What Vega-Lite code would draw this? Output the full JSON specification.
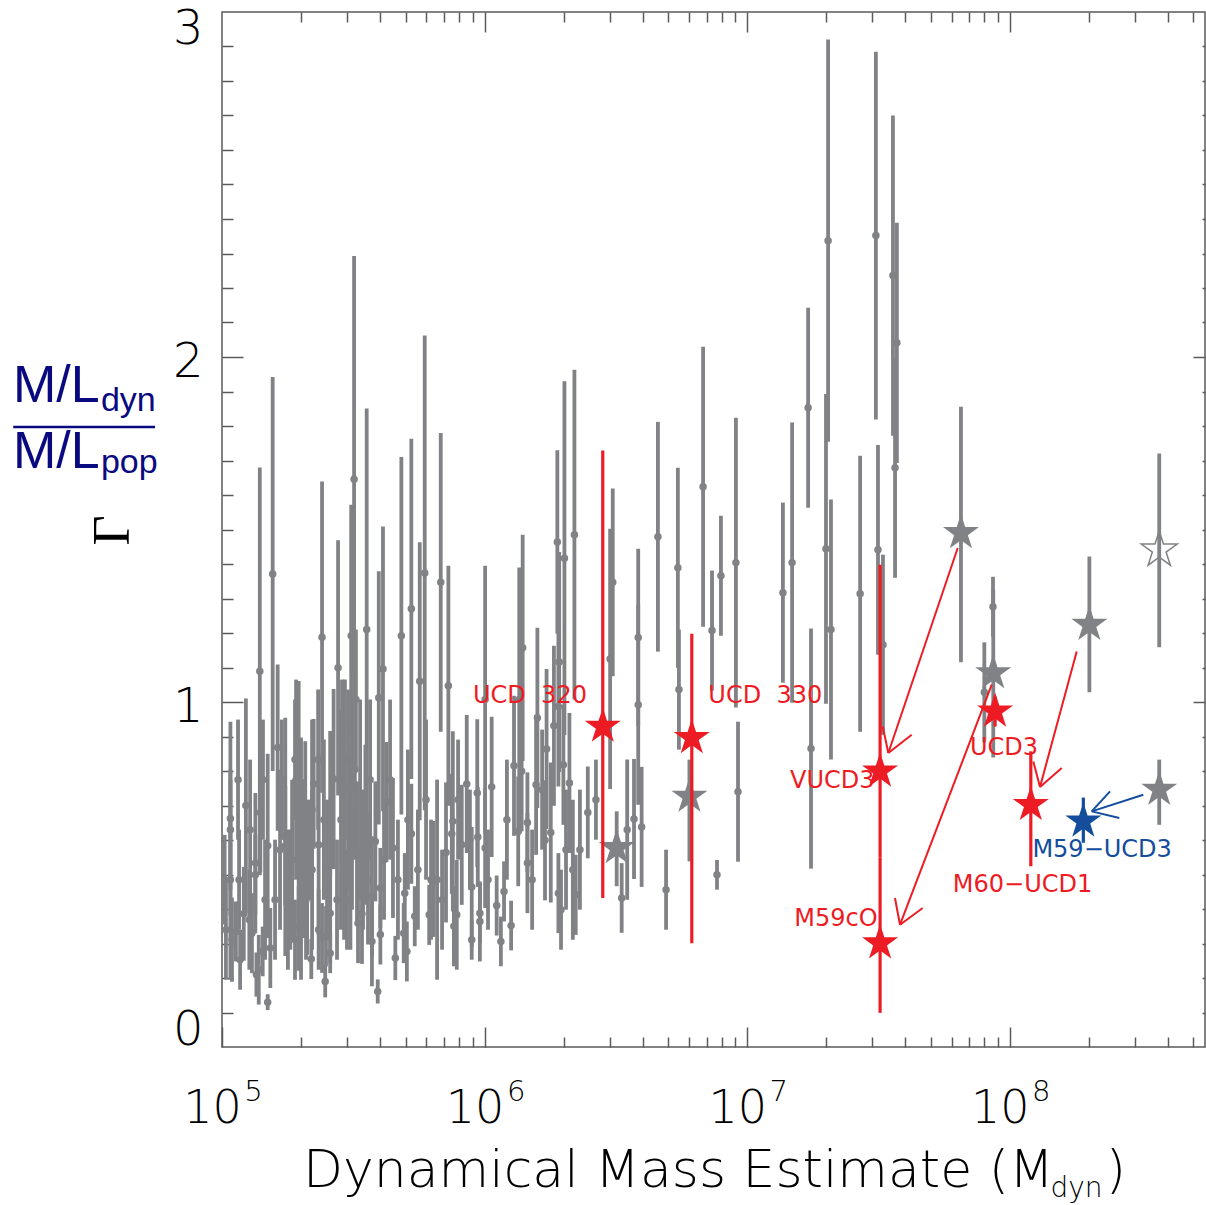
{
  "$schema": "https://vega.github.io/schema/vega-lite/v6.json",
  "width": 983,
  "height": 1035,
  "autosize": "none",
  "padding": {"left": 222, "top": 12, "right": 1, "bottom": 158},
  "background": "white",
  "config": {
    "view": {"stroke": "#5a5a5a", "strokeWidth": 1.5},
    "axis": {"grid": false, "domain": false, "tickColor": "#5a5a5a", "tickWidth": 1.5, "labelColor": "#000000", "labelOverlap": false, "labelBound": false}
  },
  "datasets": {
    "clusters": [
      {"lm":5.010,"g":0.485,"e":0.130},{"lm":5.032,"g":0.662,"e":0.281},{"lm":5.032,"g":0.630,"e":0.174},{"lm":5.038,"g":0.311,"e":0.122},
      {"lm":5.053,"g":0.335,"e":0.087},{"lm":5.091,"g":0.700,"e":0.310},{"lm":5.083,"g":0.386,"e":0.136},{"lm":5.104,"g":0.369,"e":0.145},
      {"lm":5.127,"g":0.533,"e":0.203},{"lm":5.127,"g":0.499,"e":0.116},{"lm":5.144,"g":1.089,"e":0.591},{"lm":5.146,"g":0.680,"e":0.174},
      {"lm":5.131,"g":0.210,"e":0.064},{"lm":5.140,"g":0.224,"e":0.101},{"lm":5.155,"g":0.277,"e":0.072},{"lm":5.114,"g":0.330,"e":0.116},
      {"lm":5.174,"g":0.583,"e":0.267},{"lm":5.174,"g":0.130,"e":0.023},{"lm":5.184,"g":0.287,"e":0.116},{"lm":5.193,"g":1.371,"e":0.571},
      {"lm":5.212,"g":0.868,"e":0.241},{"lm":5.241,"g":0.609,"e":0.345},{"lm":5.241,"g":0.583,"e":0.174},{"lm":5.292,"g":0.641,"e":0.420},
      {"lm":5.292,"g":0.350,"e":0.116},{"lm":5.317,"g":0.654,"e":0.232},{"lm":5.311,"g":0.603,"e":0.174},{"lm":5.311,"g":0.461,"e":0.145},
      {"lm":5.324,"g":0.441,"e":0.174},{"lm":5.349,"g":0.763,"e":0.188},{"lm":5.340,"g":0.255,"e":0.058},{"lm":5.368,"g":0.586,"e":0.261},
      {"lm":5.381,"g":1.188,"e":0.451},{"lm":5.368,"g":0.340,"e":0.116},{"lm":5.381,"g":0.316,"e":0.101},{"lm":5.396,"g":0.321,"e":0.087},
      {"lm":5.393,"g":0.190,"e":0.046},{"lm":5.412,"g":0.704,"e":0.212},{"lm":5.425,"g":0.777,"e":0.261},{"lm":5.412,"g":0.388,"e":0.145},
      {"lm":5.412,"g":0.272,"e":0.058},{"lm":5.442,"g":1.099,"e":0.370},{"lm":5.492,"g":1.192,"e":0.380},{"lm":5.503,"g":1.646,"e":0.647},
      {"lm":5.551,"g":1.210,"e":0.641},{"lm":5.514,"g":0.567,"e":0.203},{"lm":5.489,"g":0.572,"e":0.290},{"lm":5.518,"g":0.359,"e":0.116},
      {"lm":5.533,"g":0.386,"e":0.145},{"lm":5.546,"g":0.644,"e":0.232},{"lm":5.584,"g":0.596,"e":0.174},{"lm":5.571,"g":0.437,"e":0.174},
      {"lm":5.571,"g":0.306,"e":0.130},{"lm":5.593,"g":0.161,"e":0.035},{"lm":5.597,"g":1.012,"e":0.367},{"lm":5.613,"g":1.096,"e":0.413},
      {"lm":5.626,"g":0.710,"e":0.174},{"lm":5.603,"g":0.461,"e":0.116},{"lm":5.603,"g":0.326,"e":0.087},{"lm":5.651,"g":0.577,"e":0.203},
      {"lm":5.660,"g":0.258,"e":0.064},{"lm":5.683,"g":1.192,"e":0.518},{"lm":5.696,"g":0.446,"e":0.116},{"lm":5.692,"g":0.330,"e":0.087},
      {"lm":5.704,"g":0.277,"e":0.087},{"lm":5.721,"g":1.270,"e":0.493},{"lm":5.721,"g":0.618,"e":0.145},{"lm":5.734,"g":0.379,"e":0.087},
      {"lm":5.753,"g":1.060,"e":0.403},{"lm":5.772,"g":1.374,"e":0.688},{"lm":5.789,"g":0.383,"e":0.087},{"lm":5.796,"g":0.485,"e":0.174},
      {"lm":5.468,"g":0.833,"e":0.232},{"lm":5.480,"g":0.746,"e":0.290},{"lm":5.506,"g":0.804,"e":0.261},{"lm":5.453,"g":0.659,"e":0.319},
      {"lm":5.465,"g":0.514,"e":0.203},{"lm":5.526,"g":0.717,"e":0.290},{"lm":5.499,"g":0.920,"e":0.174},{"lm":5.366,"g":0.833,"e":0.203},
      {"lm":5.343,"g":0.688,"e":0.261},{"lm":5.282,"g":0.775,"e":0.290},{"lm":5.267,"g":0.543,"e":0.232},{"lm":5.301,"g":0.369,"e":0.174},
      {"lm":5.331,"g":0.572,"e":0.145},{"lm":5.065,"g":0.485,"e":0.145},{"lm":5.251,"g":0.427,"e":0.203},{"lm":5.156,"g":0.775,"e":0.174},
      {"lm":5.228,"g":0.775,"e":0.174},
      {"lm":5.032,"g":0.485,"e":0.290},{"lm":5.260,"g":0.456,"e":0.174},{"lm":5.301,"g":0.633,"e":0.264},{"lm":5.320,"g":0.427,"e":0.174},
      {"lm":5.343,"g":0.514,"e":0.232},{"lm":5.556,"g":0.485,"e":0.188},{"lm":5.015,"g":0.340,"e":0.145},{"lm":5.069,"g":0.253,"e":0.087},
      {"lm":5.107,"g":0.630,"e":0.203},{"lm":5.164,"g":0.427,"e":0.174},{"lm":5.202,"g":0.427,"e":0.174},{"lm":5.221,"g":0.572,"e":0.232},
      {"lm":5.278,"g":0.311,"e":0.116},{"lm":5.400,"g":0.514,"e":0.203},{"lm":5.438,"g":0.427,"e":0.174},{"lm":5.457,"g":0.891,"e":0.174},
      {"lm":5.476,"g":0.427,"e":0.145},{"lm":5.495,"g":0.659,"e":0.261},{"lm":5.510,"g":1.007,"e":0.203},{"lm":5.537,"g":0.543,"e":0.203},
      {"lm":5.564,"g":0.775,"e":0.232},{"lm":5.617,"g":0.543,"e":0.174},{"lm":5.640,"g":0.775,"e":0.232},{"lm":5.670,"g":0.485,"e":0.174},
      {"lm":5.708,"g":0.659,"e":0.203},{"lm":5.746,"g":0.514,"e":0.174},{"lm":5.777,"g":0.717,"e":0.232},{"lm":5.838,"g":0.427,"e":0.145},
      {"lm":5.899,"g":0.717,"e":0.174},{"lm":5.944,"g":0.601,"e":0.145},{"lm":6.013,"g":0.485,"e":0.145},{"lm":6.085,"g":0.659,"e":0.174},
      {"lm":6.181,"g":0.485,"e":0.145},{"lm":6.219,"g":0.746,"e":0.174},{"lm":6.310,"g":0.572,"e":0.174},{"lm":6.363,"g":0.572,"e":0.174},
      {"lm":6.424,"g":0.717,"e":0.116},{"lm":5.388,"g":0.659,"e":0.232},{"lm":5.278,"g":0.833,"e":0.174},{"lm":5.061,"g":0.775,"e":0.174},
      {"lm":5.805,"g":0.487,"e":0.168},{"lm":5.819,"g":0.485,"e":0.290},{"lm":5.833,"g":1.347,"e":0.433},{"lm":5.862,"g":1.047,"e":0.348},
      {"lm":5.853,"g":0.564,"e":0.203},{"lm":5.879,"g":0.654,"e":0.261},{"lm":5.875,"g":0.618,"e":0.174},{"lm":5.883,"g":0.350,"e":0.116},
      {"lm":5.894,"g":0.383,"e":0.159},{"lm":5.913,"g":0.586,"e":0.174},{"lm":5.932,"g":0.762,"e":0.200},{"lm":5.951,"g":0.464,"e":0.174},
      {"lm":5.951,"g":0.311,"e":0.058},{"lm":5.972,"g":0.736,"e":0.214},{"lm":5.974,"g":0.609,"e":0.145},{"lm":5.982,"g":0.388,"e":0.087},
      {"lm":5.982,"g":0.364,"e":0.116},{"lm":6.002,"g":1.007,"e":0.388},{"lm":6.002,"g":0.577,"e":0.174},{"lm":6.027,"g":0.754,"e":0.203},
      {"lm":6.046,"g":0.410,"e":0.087},{"lm":6.062,"g":0.306,"e":0.072},{"lm":6.074,"g":0.451,"e":0.087},{"lm":6.101,"g":0.352,"e":0.072},
      {"lm":6.112,"g":0.815,"e":0.203},{"lm":6.128,"g":0.625,"e":0.159},{"lm":6.145,"g":1.157,"e":0.328},{"lm":6.132,"g":1.007,"e":0.383},
      {"lm":6.141,"g":0.799,"e":0.174},{"lm":6.163,"g":0.651,"e":0.145},{"lm":6.163,"g":0.533,"e":0.145},{"lm":6.201,"g":0.954,"e":0.261},
      {"lm":6.196,"g":0.760,"e":0.203},{"lm":6.236,"g":0.864,"e":0.232},{"lm":6.230,"g":0.599,"e":0.174},{"lm":6.252,"g":0.622,"e":0.203},
      {"lm":6.264,"g":0.931,"e":0.232},{"lm":6.277,"g":1.464,"e":0.266},{"lm":6.304,"g":1.417,"e":0.513},{"lm":6.342,"g":1.485,"e":0.478},
      {"lm":6.284,"g":1.116,"e":0.319},{"lm":6.281,"g":0.987,"e":0.232},{"lm":6.300,"g":0.818,"e":0.174},{"lm":6.323,"g":0.765,"e":0.203},
      {"lm":6.281,"g":0.446,"e":0.116},{"lm":6.291,"g":0.398,"e":0.116},{"lm":6.336,"g":0.514,"e":0.203},{"lm":6.347,"g":0.441,"e":0.116},
      {"lm":6.393,"g":0.680,"e":0.133},{"lm":6.488,"g":1.347,"e":0.272},{"lm":6.478,"g":1.125,"e":0.377},{"lm":6.585,"g":1.187,"e":0.257},
      {"lm":6.585,"g":0.992,"e":0.290},{"lm":6.522,"g":0.432,"e":0.101},{"lm":6.543,"g":0.630,"e":0.203},{"lm":6.569,"g":0.661,"e":0.174},
      {"lm":6.598,"g":0.638,"e":0.174},
      {"lm":6.660,"g":1.479,"e":0.333},{"lm":6.691,"g":0.456,"e":0.116},{"lm":6.736,"g":1.389,"e":0.290},{"lm":6.740,"g":1.036,"e":0.174},
      {"lm":6.832,"g":1.624,"e":0.406},{"lm":6.866,"g":1.207,"e":0.174},{"lm":6.885,"g":0.499,"e":0.043},{"lm":6.900,"g":1.366,"e":0.174},
      {"lm":6.957,"g":1.404,"e":0.420},{"lm":6.965,"g":0.740,"e":0.203},{"lm":7.136,"g":1.317,"e":0.261},{"lm":7.171,"g":1.404,"e":0.406},
      {"lm":7.232,"g":1.853,"e":0.290},{"lm":7.243,"g":0.865,"e":0.348},{"lm":7.300,"g":1.444,"e":0.449},{"lm":7.308,"g":2.337,"e":0.583},
      {"lm":7.319,"g":1.210,"e":0.377},{"lm":7.430,"g":1.314,"e":0.400},{"lm":7.490,"g":2.352,"e":0.533},{"lm":7.498,"g":1.441,"e":0.304},
      {"lm":7.517,"g":1.166,"e":0.261},{"lm":7.555,"g":2.236,"e":0.464},{"lm":7.563,"g":1.679,"e":0.319},{"lm":7.570,"g":2.041,"e":0.348},
      {"lm":7.936,"g":1.276,"e":0.087},{"lm":7.903,"g":1.028,"e":0.145}
    ],
    "ucds": [
      {"name":"","set":"previous","lm":6.503,"g":0.577,"lo":0.466,"hi":0.683},
      {"name":"","set":"previous","lm":6.780,"g":0.726,"lo":0.538,"hi":0.833},
      {"name":"","set":"previous","lm":7.814,"g":1.490,"lo":1.115,"hi":1.856},
      {"name":"","set":"previous","lm":7.937,"g":1.084,"lo":0.839,"hi":1.326},
      {"name":"","set":"previous","lm":8.303,"g":1.224,"lo":1.028,"hi":1.422},
      {"name":"","set":"previous","lm":8.569,"g":0.746,"lo":0.644,"hi":0.833},
      {"name":"","set":"previous_open","lm":8.569,"g":1.441,"lo":1.159,"hi":1.720},
      {"name":"UCD 320","set":"new","lm":6.450,"g":0.929,"lo":0.432,"hi":1.729},
      {"name":"UCD 330","set":"new","lm":6.789,"g":0.896,"lo":0.301,"hi":1.198},
      {"name":"VUCD3","set":"new","lm":7.506,"g":0.799,"lo":0.550,"hi":1.398},
      {"name":"M59cO","set":"new","lm":7.506,"g":0.301,"lo":0.099,"hi":0.550},
      {"name":"UCD3","set":"new","lm":7.944,"g":0.973,"lo":0.929,"hi":1.016},
      {"name":"M60-UCD1","set":"new","lm":8.080,"g":0.702,"lo":0.524,"hi":0.857},
      {"name":"M59-UCD3","set":"new_m59","lm":8.280,"g":0.654,"lo":0.592,"hi":0.723}
    ],
    "arrows": [
      {"set":"new","lm":7.8016,"g":1.4464,"lm2":7.5374,"g2":0.8522},
      {"set":"new","lm":7.5160,"g":0.9293,"lm2":7.5374,"g2":0.8522},
      {"set":"new","lm":7.6264,"g":0.9052,"lm2":7.5374,"g2":0.8522},
      {"set":"new","lm":7.9311,"g":1.0501,"lm2":7.5819,"g2":0.3545},
      {"set":"new","lm":7.5628,"g":0.4319,"lm2":7.5819,"g2":0.3545},
      {"set":"new","lm":7.6683,"g":0.4029,"lm2":7.5819,"g2":0.3545},
      {"set":"new","lm":8.2548,"g":1.1467,"lm2":8.1150,"g2":0.7536},
      {"set":"new","lm":8.0895,"g":0.8278,"lm2":8.1150,"g2":0.7536},
      {"set":"new","lm":8.1977,"g":0.8087,"lm2":8.1150,"g2":0.7536},
      {"set":"new_m59","lm":8.5084,"g":0.7313,"lm2":8.3119,"g2":0.6829},
      {"set":"new_m59","lm":8.3816,"g":0.7409,"lm2":8.3119,"g2":0.6829},
      {"set":"new_m59","lm":8.4170,"g":0.6638,"lm2":8.3119,"g2":0.6829}
    ],
    "names": [
      {"set":"new","lm":5.956,"g":0.997,"label":"UCD\u00a0\u00a0320"},
      {"set":"new","lm":6.852,"g":0.997,"label":"UCD\u00a0\u00a0330"},
      {"set":"new","lm":7.163,"g":0.751,"label":"VUCD3"},
      {"set":"new","lm":7.179,"g":0.350,"label":"M59cO"},
      {"set":"new","lm":7.848,"g":0.847,"label":"UCD3"},
      {"set":"new","lm":7.783,"g":0.448,"label":"M60−UCD1"},
      {"set":"new_m59","lm":8.086,"g":0.551,"label":"M59−UCD3"}
    ]
  },
  "resolve": {"axis": {"x": "independent", "y": "independent"}},
  "layer": [
    {
      "data": {"name": "clusters"},
      "mark": {"type": "errorbar", "ticks": false, "color": "#808285", "thickness": 3.8, "rule": {"strokeWidth": 3.8, "stroke": "#808285"}},
      "encoding": {
        "x": {"field": "lm", "type": "quantitative", "scale": {"domain": [5, 8.7433], "nice": false, "zero": false}, "axis": null},
        "y": {"field": "g", "type": "quantitative", "scale": {"domain": [0, 3], "nice": false, "zero": false}, "axis": null},
        "yError": {"field": "e"}
      }
    },
    {
      "data": {"name": "clusters"},
      "mark": {"type": "point", "shape": "circle", "filled": true, "size": 56, "color": "#808285", "opacity": 1},
      "encoding": {
        "x": {"field": "lm", "type": "quantitative", "scale": {"domain": [5, 8.7433], "nice": false, "zero": false},
          "axis": {"orient": "bottom", "values": [5, 6, 7, 8], "ticks": false, "labelExpr": "'10'", "labelOffset": -10,
            "labelFont": "DejaVu Sans", "labelFontWeight": 200, "labelFontSize": 46, "labelPadding": 39, "labelFlush": false, "title": null}},
        "y": {"field": "g", "type": "quantitative", "scale": {"domain": [0, 3], "nice": false, "zero": false},
          "axis": {"orient": "left", "values": [0, 3], "ticks": false, "labelFont": "DejaVu Sans", "labelFontWeight": 200, "labelFontSize": 48,
            "labelPadding": 19, "labelFlush": true, "labelFlushOffset": 7,
            "title": "Γ", "titleFont": "Liberation Serif", "titleFontSize": 52, "titleFontWeight": "normal", "titleColor": "#000000",
            "titleAngle": 270, "titleX": -94, "titleY": 518, "titleBaseline": "alphabetic", "titleAlign": "center"}}
      }
    },
    {
      "data": {"name": "ucds"},
      "transform": [{"filter": "datum.set == 'previous' || datum.set == 'previous_open'"}],
      "mark": {"type": "rule", "color": "#808285", "strokeWidth": 3.8},
      "encoding": {
        "x": {"field": "lm", "type": "quantitative", "scale": {"domain": [5, 8.7433], "nice": false, "zero": false},
          "axis": {"orient": "bottom", "values": [5, 6, 7, 8], "labels": false, "tickSize": -20, "title": null}},
        "y": {"field": "lo", "type": "quantitative", "scale": {"domain": [0, 3], "nice": false, "zero": false},
          "axis": {"orient": "left", "values": [1, 2], "labels": false, "tickSize": -21, "title": null}},
        "y2": {"field": "hi"}
      }
    },
    {
      "data": {"name": "ucds"},
      "transform": [{"filter": "datum.set == 'previous'"}],
      "mark": {"type": "point", "shape": "M0,-1L0.2245,-0.309L0.9511,-0.309L0.3633,0.118L0.5878,0.809L0,0.382L-0.5878,0.809L-0.3633,0.118L-0.9511,-0.309L-0.2245,-0.309Z",
        "filled": true, "size": 1433, "color": "#808285", "opacity": 1, "strokeWidth": 0},
      "encoding": {
        "x": {"field": "lm", "type": "quantitative", "scale": {"domain": [5, 8.7433], "nice": false, "zero": false},
          "axis": {"orient": "bottom", "values": [5.301,5.477,5.602,5.699,5.778,5.845,5.903,5.954,6.301,6.477,6.602,6.699,6.778,6.845,6.903,6.954,7.301,7.477,7.602,7.699,7.778,7.845,7.903,7.954,8.301,8.477,8.602,8.699],
            "labels": false, "tickSize": -10, "title": null}},
        "y": {"field": "g", "type": "quantitative", "scale": {"domain": [0, 3], "nice": false, "zero": false},
          "axis": {"orient": "left", "values": [0.1,0.2,0.3,0.4,0.5,0.6,0.7,0.8,0.9,1.1,1.2,1.3,1.4,1.5,1.6,1.7,1.8,1.9,2.1,2.2,2.3,2.4,2.5,2.6,2.7,2.8,2.9],
            "labels": false, "tickSize": -11, "title": null}}
      }
    },
    {
      "data": {"name": "ucds"},
      "transform": [{"filter": "datum.set == 'previous_open'"}],
      "mark": {"type": "point", "shape": "M0,-1L0.2245,-0.309L0.9511,-0.309L0.3633,0.118L0.5878,0.809L0,0.382L-0.5878,0.809L-0.3633,0.118L-0.9511,-0.309L-0.2245,-0.309Z",
        "filled": false, "size": 1433, "color": "#808285", "opacity": 1, "strokeWidth": 1.5},
      "encoding": {
        "x": {"field": "lm", "type": "quantitative", "scale": {"domain": [5, 8.7433], "nice": false, "zero": false},
          "axis": {"orient": "top", "values": [6, 7, 8], "labels": false, "tickSize": -20, "title": null}},
        "y": {"field": "g", "type": "quantitative", "scale": {"domain": [0, 3], "nice": false, "zero": false},
          "axis": {"orient": "right", "values": [1, 2], "labels": false, "tickSize": -12, "title": null}}
      }
    },
    {
      "data": {"name": "ucds"},
      "transform": [{"filter": "datum.set == 'new'"}],
      "mark": {"type": "rule", "color": "#ed1c24", "strokeWidth": 3.2},
      "encoding": {
        "x": {"field": "lm", "type": "quantitative", "scale": {"domain": [5, 8.7433], "nice": false, "zero": false},
          "axis": {"orient": "top", "values": [5.301,5.477,5.602,5.699,5.778,5.845,5.903,5.954,6.301,6.477,6.602,6.699,6.778,6.845,6.903,6.954,7.301,7.477,7.602,7.699,7.778,7.845,7.903,7.954,8.301,8.477,8.602,8.699],
            "labels": false, "tickSize": -10, "title": null}},
        "y": {"field": "lo", "type": "quantitative", "scale": {"domain": [0, 3], "nice": false, "zero": false},
          "axis": {"orient": "right", "values": [0.1,0.2,0.3,0.4,0.5,0.6,0.7,0.8,0.9,1.1,1.2,1.3,1.4,1.5,1.6,1.7,1.8,1.9,2.1,2.2,2.3,2.4,2.5,2.6,2.7,2.8,2.9],
            "labels": false, "tickSize": -3, "title": null}},
        "y2": {"field": "hi"}
      }
    },
    {
      "data": {"name": "ucds"},
      "transform": [{"filter": "datum.set == 'new_m59'"}],
      "mark": {"type": "rule", "color": "#134d9c", "strokeWidth": 3.2},
      "encoding": {
        "x": {"field": "lm", "type": "quantitative", "scale": {"domain": [5, 8.7433], "nice": false, "zero": false},
          "axis": {"orient": "bottom", "values": [5, 6, 7, 8], "ticks": false, "labelExpr": "format(datum.value, 'd')", "labelOffset": 31,
            "labelFont": "DejaVu Sans", "labelFontWeight": 200, "labelFontSize": 29, "labelPadding": 30, "labelFlush": false, "title": null}},
        "y": {"field": "lo", "type": "quantitative", "scale": {"domain": [0, 3], "nice": false, "zero": false},
          "axis": {"orient": "left", "values": [1, 2], "ticks": false, "labelFont": "DejaVu Sans", "labelFontWeight": 200, "labelFontSize": 48,
            "labelPadding": 19, "labelFlush": false, "labelOffset": 5, "title": null}},
        "y2": {"field": "hi"}
      }
    },
    {
      "data": {"name": "ucds"},
      "transform": [{"filter": "datum.set == 'new'"}],
      "mark": {"type": "point", "shape": "M0,-1L0.2245,-0.309L0.9511,-0.309L0.3633,0.118L0.5878,0.809L0,0.382L-0.5878,0.809L-0.3633,0.118L-0.9511,-0.309L-0.2245,-0.309Z",
        "filled": true, "size": 1433, "color": "#ed1c24", "opacity": 1, "strokeWidth": 0},
      "encoding": {
        "x": {"field": "lm", "type": "quantitative", "scale": {"domain": [5, 8.7433], "nice": false, "zero": false}, "axis": null},
        "y": {"field": "g", "type": "quantitative", "scale": {"domain": [0, 3], "nice": false, "zero": false}, "axis": null}
      }
    },
    {
      "data": {"name": "ucds"},
      "transform": [{"filter": "datum.set == 'new_m59'"}],
      "mark": {"type": "point", "shape": "M0,-1L0.2245,-0.309L0.9511,-0.309L0.3633,0.118L0.5878,0.809L0,0.382L-0.5878,0.809L-0.3633,0.118L-0.9511,-0.309L-0.2245,-0.309Z",
        "filled": true, "size": 1433, "color": "#134d9c", "opacity": 1, "strokeWidth": 0},
      "encoding": {
        "x": {"field": "lm", "type": "quantitative", "scale": {"domain": [5, 8.7433], "nice": false, "zero": false}, "axis": null},
        "y": {"field": "g", "type": "quantitative", "scale": {"domain": [0, 3], "nice": false, "zero": false}, "axis": null}
      }
    },
    {
      "data": {"name": "arrows"},
      "transform": [{"filter": "datum.set == 'new'"}],
      "mark": {"type": "rule", "color": "#ed1c24", "strokeWidth": 2},
      "encoding": {
        "x": {"field": "lm", "type": "quantitative", "scale": {"domain": [5, 8.7433], "nice": false, "zero": false}, "axis": null},
        "y": {"field": "g", "type": "quantitative", "scale": {"domain": [0, 3], "nice": false, "zero": false}, "axis": null},
        "x2": {"field": "lm2"},
        "y2": {"field": "g2"}
      }
    },
    {
      "data": {"name": "arrows"},
      "transform": [{"filter": "datum.set == 'new_m59'"}],
      "mark": {"type": "rule", "color": "#134d9c", "strokeWidth": 2},
      "encoding": {
        "x": {"field": "lm", "type": "quantitative", "scale": {"domain": [5, 8.7433], "nice": false, "zero": false}, "axis": null},
        "y": {"field": "g", "type": "quantitative", "scale": {"domain": [0, 3], "nice": false, "zero": false}, "axis": null},
        "x2": {"field": "lm2"},
        "y2": {"field": "g2"}
      }
    },
    {
      "data": {"name": "names"},
      "transform": [{"filter": "datum.set == 'new'"}],
      "mark": {"type": "text", "align": "left", "baseline": "alphabetic", "font": "DejaVu Sans", "fontSize": 24, "color": "#ed1c24"},
      "encoding": {
        "x": {"field": "lm", "type": "quantitative", "scale": {"domain": [5, 8.7433], "nice": false, "zero": false}, "axis": null},
        "y": {"field": "g", "type": "quantitative", "scale": {"domain": [0, 3], "nice": false, "zero": false}, "axis": null},
        "text": {"field": "label"}
      }
    },
    {
      "data": {"name": "names"},
      "transform": [{"filter": "datum.set == 'new_m59'"}],
      "mark": {"type": "text", "align": "left", "baseline": "alphabetic", "font": "DejaVu Sans", "fontSize": 24, "color": "#134d9c"},
      "encoding": {
        "x": {"field": "lm", "type": "quantitative", "scale": {"domain": [5, 8.7433], "nice": false, "zero": false}, "axis": null},
        "y": {"field": "g", "type": "quantitative", "scale": {"domain": [0, 3], "nice": false, "zero": false}, "axis": null},
        "text": {"field": "label"}
      }
    },
    {
      "data": {"values": [{"lm": 8.168, "g": -0.405, "label": "Dynamical Mass Estimate (M"}]},
      "mark": {"type": "text", "align": "right", "baseline": "alphabetic", "font": "DejaVu Sans", "fontWeight": 200, "fontSize": 52, "color": "#000000"},
      "encoding": {
        "x": {"field": "lm", "type": "quantitative", "scale": {"domain": [5, 8.7433], "nice": false, "zero": false}, "axis": null},
        "y": {"field": "g", "type": "quantitative", "scale": {"domain": [0, 3], "nice": false, "zero": false}, "axis": null},
        "text": {"field": "label"}
      }
    },
    {
      "data": {"values": [{"lm": 8.155, "g": -0.434, "label": "dyn"}]},
      "mark": {"type": "text", "align": "left", "baseline": "alphabetic", "font": "DejaVu Sans", "fontWeight": 200, "fontSize": 28, "color": "#000000"},
      "encoding": {
        "x": {"field": "lm", "type": "quantitative", "scale": {"domain": [5, 8.7433], "nice": false, "zero": false}, "axis": null},
        "y": {"field": "g", "type": "quantitative", "scale": {"domain": [0, 3], "nice": false, "zero": false}, "axis": null},
        "text": {"field": "label"}
      }
    },
    {
      "data": {"values": [{"lm": 8.365, "g": -0.405, "label": ")"}]},
      "mark": {"type": "text", "align": "left", "baseline": "alphabetic", "font": "DejaVu Sans", "fontWeight": 200, "fontSize": 52, "color": "#000000"},
      "encoding": {
        "x": {"field": "lm", "type": "quantitative", "scale": {"domain": [5, 8.7433], "nice": false, "zero": false}, "axis": null},
        "y": {"field": "g", "type": "quantitative", "scale": {"domain": [0, 3], "nice": false, "zero": false}, "axis": null},
        "text": {"field": "label"}
      }
    },
    {
      "data": {"values": [{"lm": 4.204, "g": 1.871, "label": "M/L"}, {"lm": 4.204, "g": 1.678, "label": "M/L"}]},
      "mark": {"type": "text", "align": "left", "baseline": "alphabetic", "font": "Liberation Sans", "fontSize": 52, "color": "#0a0a80"},
      "encoding": {
        "x": {"field": "lm", "type": "quantitative", "scale": {"domain": [5, 8.7433], "nice": false, "zero": false}, "axis": null},
        "y": {"field": "g", "type": "quantitative", "scale": {"domain": [0, 3], "nice": false, "zero": false}, "axis": null},
        "text": {"field": "label"}
      }
    },
    {
      "data": {"values": [{"lm": 4.539, "g": 1.843, "label": "dyn"}, {"lm": 4.539, "g": 1.665, "label": "pop"}]},
      "mark": {"type": "text", "align": "left", "baseline": "alphabetic", "font": "Liberation Sans", "fontSize": 34, "color": "#0a0a80"},
      "encoding": {
        "x": {"field": "lm", "type": "quantitative", "scale": {"domain": [5, 8.7433], "nice": false, "zero": false}, "axis": null},
        "y": {"field": "g", "type": "quantitative", "scale": {"domain": [0, 3], "nice": false, "zero": false}, "axis": null},
        "text": {"field": "label"}
      }
    },
    {
      "data": {"values": [{"lm": 4.205, "lm2": 4.745, "g": 1.797}]},
      "mark": {"type": "rule", "color": "#0a0a80", "strokeWidth": 2.5},
      "encoding": {
        "x": {"field": "lm", "type": "quantitative", "scale": {"domain": [5, 8.7433], "nice": false, "zero": false}, "axis": null},
        "x2": {"field": "lm2"},
        "y": {"field": "g", "type": "quantitative", "scale": {"domain": [0, 3], "nice": false, "zero": false}, "axis": null}
      }
    }
  ]
}
